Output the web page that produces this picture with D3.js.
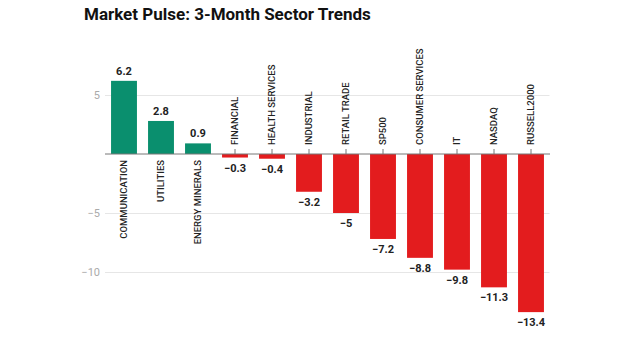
<!DOCTYPE html>
<html><head><meta charset="utf-8">
<script src="https://cdn.jsdelivr.net/npm/d3@7"></script>
<style>body{margin:0;background:#fff;}svg{display:block;font-family:Roboto,"Noto Sans",sans-serif;}</style>
</head><body>
<script>
const categories = ["COMMUNICATION","UTILITIES","ENERGY MINERALS","FINANCIAL","HEALTH SERVICES","INDUSTRIAL","RETAIL TRADE","SP500","CONSUMER SERVICES","IT","NASDAQ","RUSSELL2000"];
const values = [6.2, 2.8, 0.9, -0.3, -0.4, -3.2, -5, -7.2, -8.8, -9.8, -11.3, -13.4];
const yTicks = [5, -5, -10];
const title = "Market Pulse: 3-Month Sector Trends";

const W = 640, H = 356;
const svg = d3.select("body").append("svg").attr("width", W).attr("height", H);

const x = d3.scaleBand().domain(categories).range([105.5, 549.5]).paddingInner(0.3).paddingOuter(0.15);
const y = d3.scaleLinear().domain([-15, 7]).range([331, 71.4]);
const fmt = v => String(v).replace("-", "\u2212");

svg.append("text").attr("x", 84).attr("y", 20).attr("font-size", 17).attr("font-weight", 700)
  .attr("fill", "#111").text(title);

// grid
const yAxis = d3.axisLeft(y).tickValues(yTicks).tickSize(-(549.5 - 105)).tickFormat(fmt).tickPadding(5);
const ga = svg.append("g").attr("transform", "translate(105,0)").call(yAxis);
ga.select(".domain").remove();
ga.selectAll(".tick line").attr("stroke", "#e6e6e6");
ga.selectAll(".tick text").attr("fill", "#aaa").attr("font-size", 11).attr("font-family", "Roboto,sans-serif");

// bars
svg.append("g").selectAll("rect").data(values).join("rect")
  .attr("x", (d, i) => x(categories[i]))
  .attr("width", x.bandwidth())
  .attr("y", d => y(Math.max(0, d)))
  .attr("height", d => Math.abs(y(d) - y(0)))
  .attr("fill", d => d >= 0 ? "#0a8f6e" : "#e31c1e");

// zero line
svg.append("line").attr("x1", 105).attr("x2", 550).attr("y1", y(0)).attr("y2", y(0))
  .attr("stroke", "#777").attr("stroke-width", 1);

// ticks at categories for negative bars
svg.append("g").selectAll("line").data(values).join("line")
  .attr("x1", (d, i) => x(categories[i]) + x.bandwidth() / 2)
  .attr("x2", (d, i) => x(categories[i]) + x.bandwidth() / 2)
  .attr("y1", y(0)).attr("y2", d => d < 0 ? y(0) - 5 : y(0))
  .attr("stroke", "#777");

// category labels
svg.append("g").selectAll("text").data(values).join("text")
  .attr("transform", (d, i) => {
    const cx = x(categories[i]) + x.bandwidth() / 2;
    const cy = d >= 0 ? y(0) + 6 : y(0) - 9;
    return `translate(${cx + 3.4},${cy}) rotate(-90)`;
  })
  .attr("text-anchor", d => d >= 0 ? "end" : "start")
  .attr("font-size", 9.5).attr("font-weight", 500).attr("fill", "#222")
  .text((d, i) => categories[i]);

// value labels
svg.append("g").selectAll("text").data(values).join("text")
  .attr("x", (d, i) => x(categories[i]) + x.bandwidth() / 2)
  .attr("y", d => d >= 0 ? y(d) - 6 : y(d) + 14)
  .attr("text-anchor", "middle").attr("font-size", 11).attr("font-weight", 700).attr("fill", "#222")
  .text(d => fmt(d));
</script>
</body></html>
